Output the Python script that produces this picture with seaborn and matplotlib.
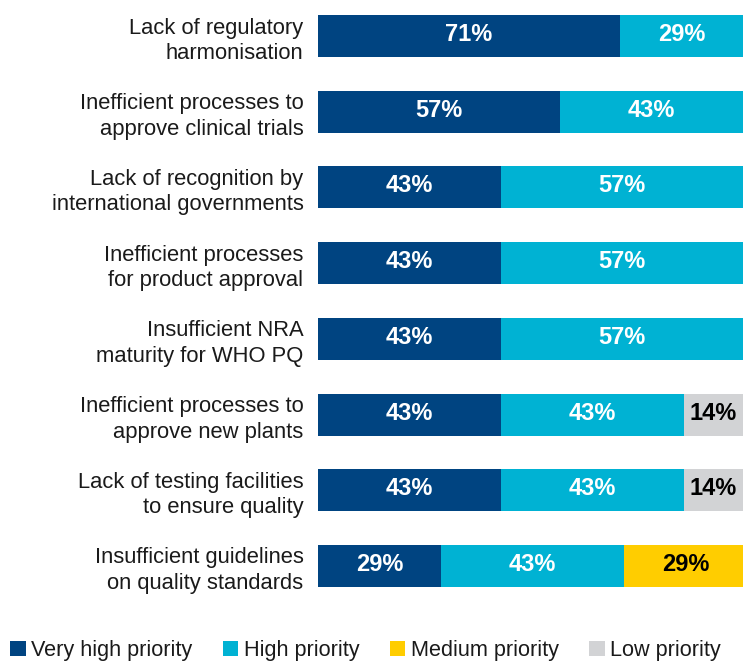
import numpy as np
import pandas as pd
import matplotlib
matplotlib.use("Agg")
import matplotlib.pyplot as plt
import seaborn as sns
from matplotlib.patches import Patch

categories = [
    "Lack of regulatory\nharmonisation",
    "Inefficient processes to\napprove clinical trials",
    "Lack of recognition by\ninternational governments",
    "Inefficient processes\nfor product approval",
    "Insufficient NRA\nmaturity for WHO PQ",
    "Inefficient processes to\napprove new plants",
    "Lack of testing facilities\nto ensure quality",
    "Insufficient guidelines\non quality standards",
]
very_high = [71, 57, 43, 43, 43, 43, 43, 29]
high = [29, 43, 57, 57, 57, 43, 43, 43]
medium = [0, 0, 0, 0, 0, 0, 0, 29]
low = [0, 0, 0, 0, 0, 14, 14, 0]

series_names = ["Very high priority", "High priority", "Medium priority", "Low priority"]
colors = ["#004481", "#00b2d3", "#ffcd00", "#d2d3d5"]
text_colors = ["white", "white", "black", "black"]

sns.set_theme(style="white")
plt.rcParams["font.family"] = ["Liberation Sans", "DejaVu Sans"]

df = pd.DataFrame({
    "category": categories,
    "Very high priority": very_high,
    "High priority": high,
    "Medium priority": medium,
    "Low priority": low,
})
cum = df[series_names].cumsum(axis=1)

fig = plt.figure(figsize=(7.43, 6.61), dpi=100)
ax = fig.add_axes([318 / 743, (661 - 587) / 661, 1 - 318 / 743, (587 - 15) / 661])

bar_h = 0.555
# Stack by overlaying cumulative totals, widest first
for name, col in reversed(list(zip(series_names, colors))):
    sns.barplot(x=cum[name], y=df["category"], color=col, orient="h",
                width=bar_h, ax=ax, saturation=1, linewidth=0)

# Segment value labels
for i in range(len(categories)):
    left = 0
    for name, tc in zip(series_names, text_colors):
        v = df[name].iloc[i]
        if v > 0:
            ax.text(left + v / 2, i - 0.02, f"{v}%", ha="center", va="center",
                    color=tc, fontsize=17, fontweight="bold")
        left += v

ax.set_xlim(0, 100)
ax.set_ylim(len(categories) - 1 + bar_h / 2, -bar_h / 2)
ax.set_xlabel("")
ax.set_ylabel("")
ax.set_xticks([])
ax.tick_params(axis="y", length=0, pad=10.5, labelsize=15.8)
for lbl in ax.get_yticklabels():
    lbl.set_multialignment("right")
    lbl.set_linespacing(1.28)
    lbl.set_color("#1a1a1a")
sns.despine(ax=ax, left=True, bottom=True)

handles = [Patch(facecolor=c, edgecolor="none") for c in colors]
fig.legend(handles, series_names, loc="lower left", bbox_to_anchor=(0.002, -0.013),
           ncol=4, frameon=False, fontsize=15.6, handlelength=0.72, handleheight=0.72,
           handletextpad=0.25, columnspacing=1.4, borderaxespad=0.0,
           labelcolor="#1a1a1a")

fig.savefig("out.png", dpi=100)
